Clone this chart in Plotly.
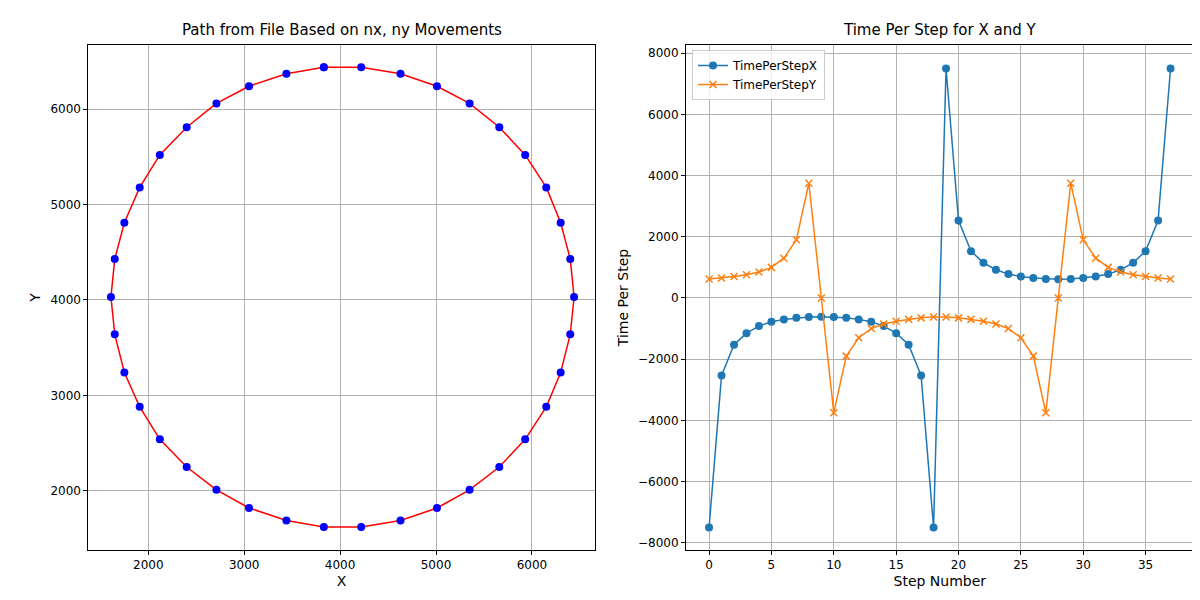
import plotly.graph_objects as go
from plotly.subplots import make_subplots

# Path points (closed circle)
path_x = [3830, 4220, 4630, 5010, 5350, 5660, 5930, 6150, 6300, 6400, 6440, 6400, 6300, 6150, 5930, 5660, 5350, 5010, 4630,
          4220, 3830, 3440, 3050, 2710, 2400, 2120, 1910, 1750, 1650, 1610, 1650, 1750, 1910, 2120, 2400, 2710, 3050, 3440, 3830]
path_y = [6440, 6440, 6370, 6240, 6060, 5810, 5520, 5180, 4810, 4430, 4030, 3640, 3240, 2880, 2540, 2250, 2010, 1820, 1690,
          1620, 1620, 1690, 1820, 2010, 2250, 2540, 2880, 3240, 3640, 4030, 4430, 4810, 5180, 5520, 5810, 6060, 6240, 6370, 6440]

steps = list(range(38))
time_x = [-7500, -2530, -1530, -1150, -920, -780, -700, -650, -620, -610, -620, -650, -700, -780, -920, -1150, -1530, -2530, -7500,
          7500, 2530, 1530, 1150, 920, 780, 700, 650, 620, 610, 620, 650, 700, 780, 920, 1150, 1530, 2530, 7500]
time_y = [620, 650, 700, 760, 850, 1000, 1300, 1900, 3750, 0, -3750, -1900, -1300, -1000, -850, -760, -700, -650, -620,
          -620, -650, -700, -760, -850, -1000, -1300, -1900, -3750, 0, 3750, 1900, 1300, 1000, 850, 760, 700, 650, 620]

fig = make_subplots(rows=1, cols=2)

fig.add_trace(go.Scatter(x=path_x, y=path_y, mode="lines", line=dict(color="red", width=1.5), showlegend=False), 1, 1)
fig.add_trace(go.Scatter(x=path_x, y=path_y, mode="markers", marker=dict(color="blue", size=8), showlegend=False), 1, 1)

fig.add_trace(go.Scatter(x=steps, y=time_x, mode="lines+markers", name="TimePerStepX",
                         line=dict(color="#1f77b4", width=1.5), marker=dict(size=8, color="#1f77b4")), 1, 2)
fig.add_trace(go.Scatter(x=steps, y=time_y, mode="lines+markers", name="TimePerStepY",
                         line=dict(color="#ff7f0e", width=1.5), marker=dict(symbol="x-thin", size=7, color="#ff7f0e",
                                                                            line=dict(color="#ff7f0e", width=1.5))), 1, 2)

axis_style = dict(showgrid=True, gridcolor="#b0b0b0", gridwidth=0.8, showline=True, linecolor="black", mirror=True,
                  ticks="outside", ticklen=4, tickcolor="black", zeroline=False, tickfont=dict(size=12, color="black"))

fig.update_xaxes(axis_style)
fig.update_yaxes(axis_style)
fig.update_xaxes(domain=[0.067, 0.489], range=[1375, 6656], dtick=1000, title_text="X", title_standoff=4, row=1, col=1)
fig.update_yaxes(domain=[0.097, 0.938], range=[1382, 6670], dtick=1000, title_text="Y", title_standoff=6, row=1, col=1)
fig.update_xaxes(domain=[0.565, 0.988], range=[-1.85, 38.85], dtick=5, title_text="Step Number", title_standoff=4, row=1, col=2)
fig.update_yaxes(domain=[0.097, 0.938], range=[-8230, 8260], dtick=2000, title_text="Time Per Step", title_standoff=6, row=1, col=2)

titles = ["Path from File Based on nx, ny Movements", "Time Per Step for X and Y"]
centers = [(0.067 + 0.489) / 2, (0.565 + 0.988) / 2]
for t, cx in zip(titles, centers):
    fig.add_annotation(text=t, x=cx, y=0.945, xref="paper", yref="paper", xanchor="center", yanchor="bottom",
                       showarrow=False, font=dict(size=15, color="black"))

fig.update_layout(
    width=1200, height=600, plot_bgcolor="white", paper_bgcolor="white",
    margin=dict(l=0, r=0, t=0, b=0),
    font=dict(family="DejaVu Sans", size=12, color="black"),
    legend=dict(x=0.57, y=0.93, xanchor="left", yanchor="top", bordercolor="#cccccc", borderwidth=1,
                bgcolor="rgba(255,255,255,0.8)", font=dict(size=12)),
)

fig.write_html("out.html")
